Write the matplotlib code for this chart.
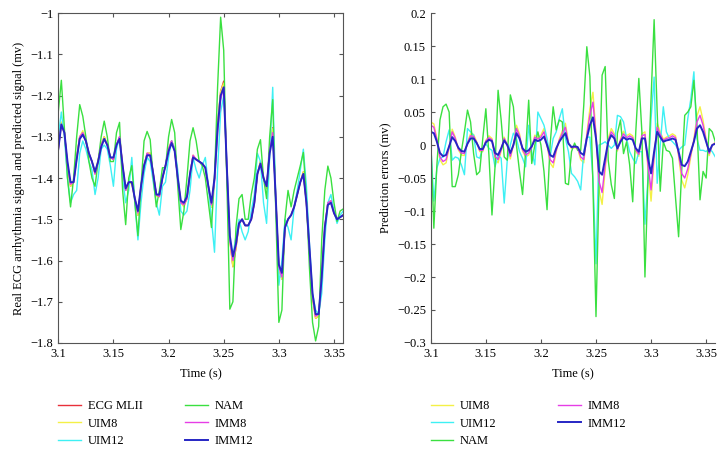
import numpy as np
import matplotlib.pyplot as plt
from matplotlib.ticker import FuncFormatter, MultipleLocator

# ----------------------------
# Data (sampled at 360 Hz from 3.1 s)
# ----------------------------
fs = 360
t0 = 3.1

ecg_mlii = [-1.33, -1.265, -1.29, -1.37, -1.42, -1.41, -1.35, -1.30, -1.29, -1.31,
            -1.34, -1.36, -1.39, -1.36, -1.32, -1.30, -1.32, -1.35, -1.355, -1.32,
            -1.30, -1.37, -1.43, -1.41, -1.41, -1.45, -1.49, -1.42, -1.37, -1.34,
            -1.34, -1.39, -1.44, -1.445, -1.40, -1.37, -1.33, -1.31, -1.33, -1.40,
            -1.46, -1.465, -1.45, -1.39, -1.345, -1.355, -1.36, -1.365, -1.375, -1.42,
            -1.47, -1.40, -1.27, -1.19, -1.165, -1.38, -1.55, -1.615, -1.57, -1.51,
            -1.50, -1.515, -1.515, -1.50, -1.46, -1.39, -1.36, -1.40, -1.425, -1.33,
            -1.278, -1.45, -1.62, -1.645, -1.52, -1.50, -1.49, -1.47, -1.44, -1.41,
            -1.385, -1.46, -1.58, -1.69, -1.74, -1.735, -1.64, -1.52, -1.46, -1.455,
            -1.485, -1.50, -1.495, -1.49]

uim8 = [-1.325, -1.265, -1.295, -1.37, -1.42, -1.41, -1.35, -1.30, -1.285, -1.31,
        -1.345, -1.36, -1.39, -1.355, -1.32, -1.30, -1.32, -1.35, -1.355, -1.32,
        -1.305, -1.37, -1.43, -1.41, -1.415, -1.45, -1.49, -1.42, -1.37, -1.34,
        -1.34, -1.39, -1.445, -1.445, -1.40, -1.37, -1.33, -1.31, -1.33, -1.40,
        -1.46, -1.47, -1.45, -1.39, -1.345, -1.355, -1.36, -1.365, -1.375, -1.42,
        -1.47, -1.40, -1.27, -1.19, -1.17, -1.38, -1.55, -1.615, -1.57, -1.51,
        -1.50, -1.515, -1.515, -1.50, -1.46, -1.39, -1.36, -1.40, -1.425, -1.335,
        -1.28, -1.45, -1.62, -1.645, -1.52, -1.50, -1.49, -1.47, -1.44, -1.41,
        -1.385, -1.46, -1.58, -1.69, -1.74, -1.735, -1.64, -1.52, -1.46, -1.455,
        -1.485, -1.50, -1.495, -1.49]

uim12 = [-1.30, -1.24, -1.30, -1.40, -1.46, -1.44, -1.43, -1.34, -1.31, -1.33,
         -1.36, -1.38, -1.44, -1.40, -1.33, -1.32, -1.33, -1.37, -1.42, -1.33,
         -1.30, -1.40, -1.46, -1.43, -1.35, -1.46, -1.55, -1.46, -1.39, -1.35,
         -1.36, -1.41, -1.46, -1.49, -1.42, -1.41, -1.35, -1.31, -1.33, -1.38,
         -1.48, -1.49, -1.48, -1.43, -1.35, -1.38, -1.40, -1.37, -1.35, -1.42,
         -1.50, -1.58, -1.38, -1.24, -1.20, -1.36, -1.55, -1.59, -1.54, -1.50,
         -1.53, -1.55, -1.53, -1.48, -1.44, -1.34, -1.36, -1.46, -1.51, -1.35,
         -1.18, -1.45, -1.66, -1.60, -1.50, -1.52, -1.55, -1.47, -1.43, -1.38,
         -1.33, -1.42, -1.56, -1.68, -1.72, -1.73, -1.68, -1.55, -1.46, -1.44,
         -1.48, -1.51, -1.49, -1.48]

nam = [-1.24, -1.163, -1.28, -1.40, -1.47, -1.40, -1.30, -1.222, -1.25, -1.30,
       -1.36, -1.40, -1.42, -1.36, -1.30, -1.262, -1.30, -1.36, -1.36, -1.29,
       -1.265, -1.43, -1.513, -1.40, -1.37, -1.46, -1.54, -1.42, -1.31, -1.287,
       -1.307, -1.40, -1.47, -1.43, -1.375, -1.375, -1.30, -1.258, -1.29, -1.42,
       -1.525, -1.48, -1.40, -1.31, -1.278, -1.31, -1.36, -1.37, -1.40, -1.46,
       -1.52, -1.40, -1.18, -1.01, -1.09, -1.40, -1.718, -1.70, -1.52, -1.45,
       -1.44, -1.50, -1.50, -1.44, -1.40, -1.33, -1.307, -1.40, -1.45, -1.30,
       -1.21, -1.48, -1.75, -1.72, -1.50, -1.43, -1.47, -1.43, -1.40, -1.37,
       -1.338, -1.45, -1.62, -1.75, -1.795, -1.76, -1.55, -1.43, -1.371, -1.40,
       -1.46, -1.505, -1.48, -1.475]

imm8 = [-1.33, -1.27, -1.29, -1.365, -1.415, -1.41, -1.355, -1.30, -1.29, -1.31,
        -1.34, -1.36, -1.39, -1.36, -1.32, -1.305, -1.32, -1.35, -1.355, -1.32,
        -1.30, -1.37, -1.43, -1.41, -1.41, -1.45, -1.485, -1.42, -1.37, -1.34,
        -1.345, -1.39, -1.44, -1.445, -1.40, -1.37, -1.33, -1.31, -1.335, -1.40,
        -1.46, -1.465, -1.45, -1.39, -1.345, -1.355, -1.36, -1.365, -1.375, -1.42,
        -1.465, -1.41, -1.29, -1.21, -1.18, -1.36, -1.55, -1.60, -1.565, -1.51,
        -1.50, -1.515, -1.515, -1.50, -1.46, -1.39, -1.365, -1.40, -1.42, -1.335,
        -1.29, -1.45, -1.615, -1.64, -1.52, -1.50, -1.49, -1.47, -1.44, -1.41,
        -1.39, -1.46, -1.575, -1.685, -1.735, -1.73, -1.64, -1.52, -1.46, -1.455,
        -1.485, -1.50, -1.495, -1.49]

imm12 = [-1.33, -1.27, -1.29, -1.36, -1.41, -1.41, -1.355, -1.305, -1.295, -1.31,
         -1.34, -1.36, -1.385, -1.36, -1.325, -1.305, -1.32, -1.35, -1.35, -1.32,
         -1.305, -1.37, -1.425, -1.41, -1.41, -1.45, -1.48, -1.42, -1.37, -1.345,
         -1.345, -1.39, -1.44, -1.44, -1.40, -1.37, -1.335, -1.315, -1.335, -1.40,
         -1.455, -1.46, -1.445, -1.39, -1.35, -1.355, -1.36, -1.365, -1.375, -1.42,
         -1.46, -1.40, -1.28, -1.20, -1.18, -1.37, -1.54, -1.59, -1.56, -1.51,
         -1.50, -1.515, -1.515, -1.50, -1.46, -1.39, -1.365, -1.40, -1.42, -1.34,
         -1.30, -1.45, -1.61, -1.63, -1.52, -1.50, -1.49, -1.47, -1.44, -1.41,
         -1.39, -1.46, -1.57, -1.68, -1.73, -1.73, -1.64, -1.52, -1.465, -1.46,
         -1.485, -1.50, -1.495, -1.49]

# prediction errors
err_uim8 = [0.035, 0.032, 0.01, -0.022, -0.03, -0.027, -0.004, 0.024, 0.012, -0.007,
            -0.015, -0.016, 0.004, 0.017, 0.016, 0.005, -0.01, -0.01, 0.007, 0.014,
            0.01, -0.021, -0.027, -0.009, 0.012, 0.0, -0.021, 0.0, 0.03, 0.017,
            -0.009, -0.018, -0.015, -0.004, 0.015, 0.011, 0.015, 0.025, 0.0, -0.027,
            -0.034, -0.01, 0.009, 0.022, 0.033, 0.004, -0.005, -0.004, -0.005, -0.022,
            -0.027, 0.017, 0.055, 0.08, 0.018, -0.068, -0.09, -0.037, 0.009, 0.025,
            0.017, -0.009, 0.009, 0.021, 0.014, 0.017, 0.014, -0.009, -0.017, 0.017,
            0.02, -0.037, -0.085, -0.02, 0.033, 0.02, 0.009, 0.012, 0.014, 0.017,
            0.014, -0.017, -0.053, -0.065, -0.045, -0.017, 0.009, 0.044, 0.058, 0.037,
            0.009, -0.016, 0.0, 0.004]

err_uim12 = [0.0, -0.085, -0.035, -0.02, -0.018, 0.005, 0.023, -0.023, -0.018, -0.02,
             -0.03, -0.045, 0.025, 0.02, 0.015, -0.018, -0.02, -0.005, 0.002, -0.005,
             -0.008, -0.033, -0.015, -0.02, -0.088, -0.023, 0.0, 0.018, 0.01, -0.01,
             -0.02, -0.033, 0.03, -0.01, -0.03, 0.05, 0.04, 0.03, 0.01, -0.018,
             0.01, 0.02, 0.04, 0.055, 0.01, -0.01, -0.043, -0.048, -0.055, -0.068,
             -0.01, 0.012, 0.012, -0.05, -0.18, 0.0, 0.002, 0.005, 0.0, -0.005,
             0.0, 0.045, 0.043, 0.035, 0.01, -0.01, -0.02, -0.028, -0.01, -0.01,
             -0.12, -0.05, 0.04, 0.103, -0.058, 0.0, 0.058, 0.02, 0.01, 0.005,
             0.0, -0.008, -0.003, 0.0, 0.04, 0.07, 0.111, 0.01, -0.008, -0.008,
             -0.01, -0.005, -0.01, -0.018]

err_nam = [0.01, -0.126, -0.03, 0.038, 0.058, 0.062, 0.05, -0.063, -0.063, -0.045,
           -0.01, 0.02, 0.053, 0.035, -0.013, -0.045, -0.04, 0.01, 0.055, -0.015,
           -0.106, -0.033, 0.083, 0.038, -0.018, -0.023, 0.076, 0.058, 0.0, -0.04,
           -0.075, -0.01, 0.068, -0.028, 0.0, 0.02, 0.0, -0.04, -0.098, 0.0,
           0.058, 0.023, 0.038, 0.035, -0.058, -0.06, -0.01, 0.003, -0.008, -0.008,
           0.06, 0.149, 0.104, -0.06, -0.26, -0.06, 0.106, 0.119, -0.023, -0.06,
           -0.081, 0.018, 0.038, -0.013, 0.005, -0.03, -0.086, 0.02, 0.101, 0.02,
           -0.2, -0.05, 0.07, 0.19, 0.05, -0.07, 0.005, -0.008, -0.01, -0.02,
           -0.08, -0.139, -0.04, 0.045, 0.05, 0.058, 0.098, 0.03, -0.083, -0.04,
           -0.05, 0.025, 0.02, 0.005]

err_imm8 = [0.03, 0.027, 0.008, -0.018, -0.025, -0.022, -0.003, 0.02, 0.01, -0.006,
            -0.012, -0.013, 0.003, 0.014, 0.013, 0.004, -0.008, -0.008, 0.006, 0.011,
            0.008, -0.017, -0.022, -0.007, 0.01, 0.0, -0.017, 0.0, 0.025, 0.014,
            -0.007, -0.015, -0.012, -0.003, 0.012, 0.009, 0.012, 0.02, 0.0, -0.022,
            -0.027, -0.008, 0.007, 0.018, 0.027, 0.003, -0.004, -0.003, -0.004, -0.018,
            -0.022, 0.014, 0.045, 0.065, 0.015, -0.055, -0.072, -0.03, 0.007, 0.02,
            0.014, -0.007, 0.007, 0.017, 0.011, 0.014, 0.011, -0.007, -0.014, 0.014,
            0.016, -0.03, -0.068, -0.016, 0.027, 0.016, 0.007, 0.01, 0.011, 0.014,
            0.011, -0.014, -0.043, -0.05, -0.036, -0.014, 0.007, 0.035, 0.045, 0.03,
            0.007, -0.013, 0.0, 0.003]

err_imm12 = [0.02, 0.018, 0.005, -0.012, -0.017, -0.015, -0.002, 0.012, 0.006, -0.004,
             -0.009, -0.01, 0.002, 0.01, 0.01, 0.003, -0.006, -0.006, 0.004, 0.008,
             0.006, -0.012, -0.015, -0.005, 0.007, 0.0, -0.012, 0.0, 0.018, 0.01,
             -0.005, -0.01, -0.008, -0.002, 0.008, 0.006, 0.008, 0.013, 0.0, -0.015,
             -0.018, -0.005, 0.005, 0.012, 0.018, 0.002, -0.003, -0.002, -0.003, -0.012,
             -0.015, 0.01, 0.03, 0.042, 0.01, -0.04, -0.045, -0.02, 0.005, 0.015,
             0.01, -0.005, 0.005, 0.012, 0.008, 0.01, 0.008, -0.005, -0.01, 0.01,
             0.01, -0.02, -0.043, -0.01, 0.02, 0.012, 0.005, 0.007, 0.008, 0.01,
             0.008, -0.01, -0.03, -0.032, -0.025, -0.01, 0.005, 0.025, 0.03, 0.02,
             0.005, -0.01, 0.0, 0.002]

t = t0 + np.arange(len(ecg_mlii)) / fs

c_red = '#e8303a'
c_yel = '#f4f046'
c_cya = '#3ef0f4'
c_grn = '#3ae040'
c_mag = '#e63ee6'
c_blu = '#2626c4'

plt.rcParams['font.family'] = ['Liberation Serif', 'DejaVu Serif']
plt.rcParams['font.size'] = 9
plt.rcParams['axes.edgecolor'] = '#555555'
plt.rcParams['xtick.color'] = '#555555'
plt.rcParams['ytick.color'] = '#555555'
plt.rcParams['xtick.labelcolor'] = 'black'
plt.rcParams['ytick.labelcolor'] = 'black'

fmt = FuncFormatter(lambda v, p: ('%g' % round(v, 4)).replace('-', '\u2212'))

fig = plt.figure(figsize=(7.24, 4.51), dpi=100)

leg_kw = dict(loc='upper left', ncol=2, frameon=False, handlelength=1.8,
              handletextpad=0.55, labelspacing=0.42, borderaxespad=0, borderpad=0)

# ----------------------------
# Left: signal and predictions
# ----------------------------
ax1 = fig.add_axes([0.0805, 0.2395, 0.3935, 0.7315])
ax1.plot(t, ecg_mlii, color=c_red, lw=1.0, label='ECG MLII')
ax1.plot(t, uim8, color=c_yel, lw=1.0, label='UIM8')
ax1.plot(t, uim12, color=c_cya, lw=1.0, label='UIM12')
ax1.plot(t, nam, color=c_grn, lw=1.0, label='NAM')
ax1.plot(t, imm8, color=c_mag, lw=1.0, label='IMM8')
ax1.plot(t, imm12, color=c_blu, lw=1.4, label='IMM12')
ax1.set_xlim(t[0], t[-1])
ax1.set_ylim(-1.8, -1.0)
ax1.xaxis.set_major_locator(MultipleLocator(0.05))
ax1.yaxis.set_major_locator(MultipleLocator(0.1))
ax1.xaxis.set_major_formatter(fmt)
ax1.yaxis.set_major_formatter(fmt)
ax1.tick_params(direction='in', top=True, right=True, length=3, width=0.8)
ax1.set_xlabel('Time (s)', labelpad=6)
ax1.set_ylabel('Real ECG arrhythmia signal and predicted signal (mv)', labelpad=4)
ax1.legend(bbox_to_anchor=(0.0, -0.174), columnspacing=3.4, **leg_kw)

# ----------------------------
# Right: prediction errors
# ----------------------------
ax2 = fig.add_axes([0.595, 0.2395, 0.393, 0.7315])
ax2.plot(t, err_uim8, color=c_yel, lw=1.0, label='UIM8')
ax2.plot(t, err_uim12, color=c_cya, lw=1.0, label='UIM12')
ax2.plot(t, err_nam, color=c_grn, lw=1.0, label='NAM')
ax2.plot(t, err_imm8, color=c_mag, lw=1.0, label='IMM8')
ax2.plot(t, err_imm12, color=c_blu, lw=1.4, label='IMM12')
ax2.set_xlim(t[0], t[-1])
ax2.set_ylim(-0.3, 0.2)
ax2.xaxis.set_major_locator(MultipleLocator(0.05))
ax2.yaxis.set_major_locator(MultipleLocator(0.05))
ax2.xaxis.set_major_formatter(fmt)
ax2.yaxis.set_major_formatter(fmt)
ax2.spines['top'].set_visible(False)
ax2.spines['right'].set_visible(False)
ax2.tick_params(direction='in', length=3, width=0.8)
ax2.set_xlabel('Time (s)', labelpad=6)
ax2.set_ylabel('Prediction errors (mv)', labelpad=4)
ax2.legend(bbox_to_anchor=(0.0, -0.174), columnspacing=4.9, **leg_kw)

plt.savefig('out.png', dpi=100)
